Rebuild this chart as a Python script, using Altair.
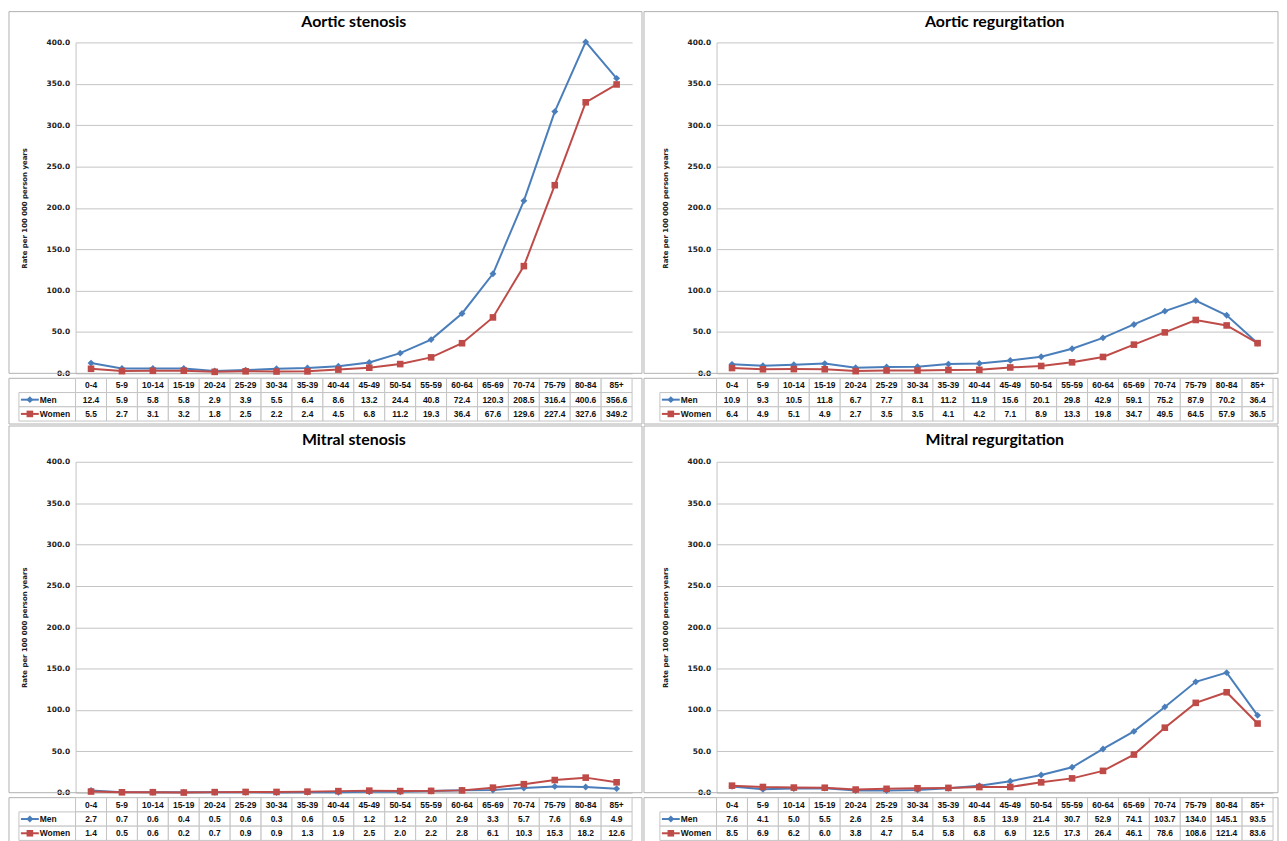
import altair as alt
import pandas as pd

ages = ["0-4", "5-9", "10-14", "15-19", "20-24", "25-29", "30-34", "35-39", "40-44",
        "45-49", "50-54", "55-59", "60-64", "65-69", "70-74", "75-79", "80-84", "85+"]

as_men = [12.4, 5.9, 5.8, 5.8, 2.9, 3.9, 5.5, 6.4, 8.6, 13.2, 24.4, 40.8, 72.4, 120.3, 208.5, 316.4, 400.6, 356.6]
as_women = [5.5, 2.7, 3.1, 3.2, 1.8, 2.5, 2.2, 2.4, 4.5, 6.8, 11.2, 19.3, 36.4, 67.6, 129.6, 227.4, 327.6, 349.2]
ar_men = [10.9, 9.3, 10.5, 11.8, 6.7, 7.7, 8.1, 11.2, 11.9, 15.6, 20.1, 29.8, 42.9, 59.1, 75.2, 87.9, 70.2, 36.4]
ar_women = [6.4, 4.9, 5.1, 4.9, 2.7, 3.5, 3.5, 4.1, 4.2, 7.1, 8.9, 13.3, 19.8, 34.7, 49.5, 64.5, 57.9, 36.5]
ms_men = [2.7, 0.7, 0.6, 0.4, 0.5, 0.6, 0.3, 0.6, 0.5, 1.2, 1.2, 2.0, 2.9, 3.3, 5.7, 7.6, 6.9, 4.9]
ms_women = [1.4, 0.5, 0.6, 0.2, 0.7, 0.9, 0.9, 1.3, 1.9, 2.5, 2.0, 2.2, 2.8, 6.1, 10.3, 15.3, 18.2, 12.6]
mr_men = [7.6, 4.1, 5.0, 5.5, 2.6, 2.5, 3.4, 5.3, 8.5, 13.9, 21.4, 30.7, 52.9, 74.1, 103.7, 134.0, 145.1, 93.5]
mr_women = [8.5, 6.9, 6.2, 6.0, 3.8, 4.7, 5.4, 5.8, 6.8, 6.9, 12.5, 17.3, 26.4, 46.1, 78.6, 108.6, 121.4, 83.6]

sexes = ["Men", "Women"]
y_ticks = [0, 50, 100, 150, 200, 250, 300, 350, 400]
y_title = "Rate per 100 000 person years"

BLUE = "#4A7EBB"
RED = "#BE4B48"
GRID = "#C4C4C4"
FRAME = "#B0B0B0"
W, H, TH = 560, 333, 43


def panel(title, men, women, frame, title_y):
    fl, fr, ft, fb = frame
    one = pd.DataFrame({"title": [title]})

    rows = []
    for s, vals in zip(sexes, [men, women]):
        for i, a in enumerate(ages):
            rows.append({"age": a, "idx": i, "sex": s, "value": vals[i]})
    df = pd.DataFrame(rows)

    x = alt.X("age:N", sort=ages,
              scale=alt.Scale(type="point", domain=ages, padding=0.5), axis=None)
    y = alt.Y("value:Q",
              scale=alt.Scale(domain=[0, 400], nice=False, zero=True),
              axis=alt.Axis(values=y_ticks, format=".1f", title=y_title, grid=True,
                            gridColor=GRID, domainColor=GRID, ticks=False,
                            labelPadding=6, minExtent=31, maxExtent=31, titlePadding=17,
                            labelFont="DejaVu Sans", labelFontSize=7.5, labelFontWeight="bold",
                            labelColor="#222222",
                            titleFont="DejaVu Sans", titleFontSize=7, titleFontWeight="bold",
                            titleColor="#222222"))
    color = alt.Color("sex:N", scale=alt.Scale(domain=sexes, range=[BLUE, RED]), legend=None)
    shape = alt.Shape("sex:N", scale=alt.Scale(domain=sexes, range=["diamond", "square"]), legend=None)
    size = alt.Size("sex:N", scale=alt.Scale(domain=sexes, range=[48, 44]), legend=None)

    border_top = alt.Chart(one).mark_rect(fillOpacity=0, stroke=FRAME, strokeWidth=1).encode(
        x=alt.value(fl), x2=alt.value(fr), y=alt.value(ft), y2=alt.value(H))
    title_mark = alt.Chart(one).mark_text(font="Lato", fontSize=16, fontWeight="bold",
                                          color="#000000", align="center", baseline="middle").encode(
        x=alt.value(W / 2), y=alt.value(title_y), text="title:N")

    base = alt.Chart(df)
    lines = base.mark_line(strokeWidth=2).encode(x=x, y=y, color=color, order="idx:Q")
    pts = base.mark_point(filled=True, opacity=1).encode(x=x, y=y, color=color, shape=shape, size=size)
    top = alt.layer(border_top, title_mark, lines, pts).properties(width=W, height=H)

    trows = []
    for i, a in enumerate(ages):
        trows.append({"age": a, "row": "hdr", "text": a})
        trows.append({"age": a, "row": "Men", "text": f"{men[i]:.1f}"})
        trows.append({"age": a, "row": "Women", "text": f"{women[i]:.1f}"})
    tdf = pd.DataFrame(trows)
    tx = alt.X("age:N", sort=ages,
               scale=alt.Scale(type="band", domain=ages, paddingInner=0, paddingOuter=0), axis=None)
    ty = alt.Y("row:N",
               scale=alt.Scale(type="band", domain=["hdr", "Men", "Women"], paddingInner=0, paddingOuter=0),
               axis=None)
    border_bot = alt.Chart(one).mark_rect(fillOpacity=0, stroke=FRAME, strokeWidth=1).encode(
        x=alt.value(fl), x2=alt.value(fr), y=alt.value(0), y2=alt.value(fb))
    cells = alt.Chart(tdf).mark_rect(fill="white", stroke=GRID, strokeWidth=1).encode(x=tx, y=ty)
    texts = alt.Chart(tdf).mark_text(font="Liberation Sans", fontSize=8.5, fontWeight="bold",
                                     color="#111111").encode(x=tx, y=ty, text="text:N")

    leg = pd.DataFrame({"row": sexes, "sex": sexes})
    lbase = alt.Chart(leg)
    lcolor = alt.Color("sex:N", scale=alt.Scale(domain=sexes, range=[BLUE, RED]), legend=None)
    legbox = lbase.mark_rect(fill="white", stroke=GRID, strokeWidth=1).encode(
        x=alt.value(-57), x2=alt.value(0), y=ty)
    legline = lbase.mark_rule(strokeWidth=2).encode(
        x=alt.value(-55), x2=alt.value(-37), y=ty, color=lcolor)
    legpt = lbase.mark_point(filled=True, opacity=1).encode(
        x=alt.value(-46), y=ty, color=lcolor, shape=shape, size=size)
    legtxt = lbase.mark_text(align="left", font="Liberation Sans", fontSize=8.5, fontWeight="bold",
                             color="#111111").encode(x=alt.value(-36), y=ty, text="sex:N")
    table = alt.layer(border_bot, legbox, cells, texts, legline, legpt, legtxt).properties(
        width=W, height=TH)

    return alt.vconcat(top, table, spacing=0)


# panel frame offsets relative to each plot area: left, right, top, bottom (below the table)
p1 = panel("Aortic stenosis", as_men, as_women, (-67, W + 10, -31, TH + 3), -21)
p2 = panel("Aortic regurgitation", ar_men, ar_women, (-73, W + 5, -31, TH + 3), -21)
p3 = panel("Mitral stenosis", ms_men, ms_women, (-67, W + 10, -36, TH + 2), -22)
p4 = panel("Mitral regurgitation", mr_men, mr_women, (-73, W + 5, -36, TH + 2), -22)

chart = alt.vconcat(
    alt.hconcat(p1, p2, spacing=0),
    alt.hconcat(p3, p4, spacing=0),
    spacing=0,
).properties(
    padding={"left": 0, "top": 0, "right": 0, "bottom": 0},
    background="white",
).configure_view(stroke=None)

chart.save("out.html", embed_options={"renderer": "svg", "actions": False})
